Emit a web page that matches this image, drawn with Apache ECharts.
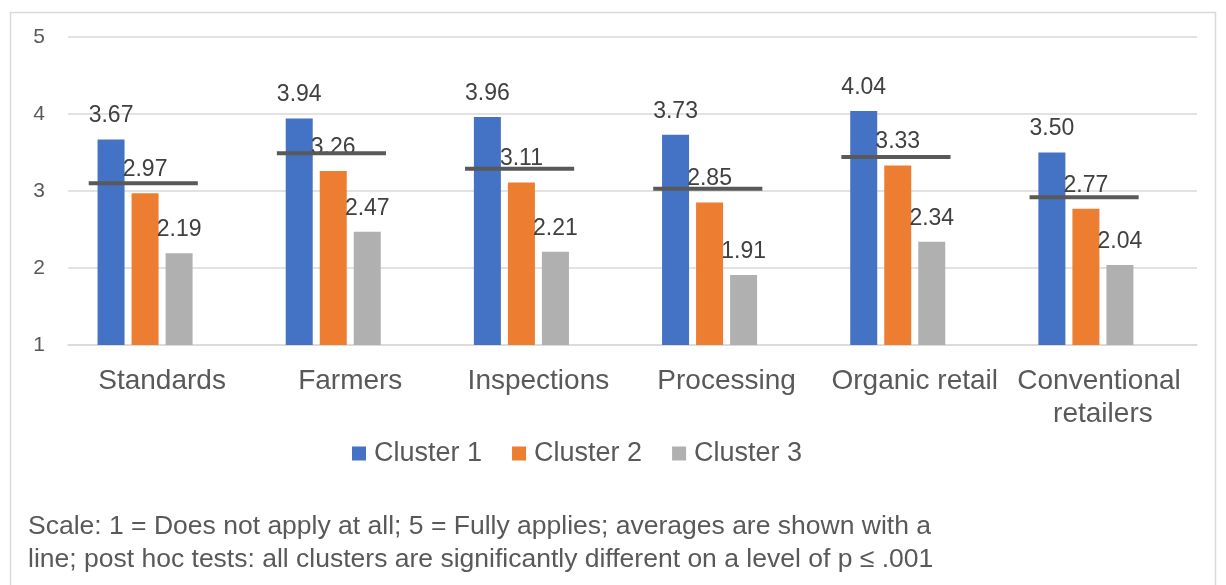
<!DOCTYPE html>
<html>
<head>
<meta charset="utf-8">
<script src="https://cdn.jsdelivr.net/npm/echarts@6/dist/echarts.min.js"></script>
<style>
  html, body { margin: 0; padding: 0; background: #ffffff; }
  #chart { width: 1226px; height: 585px; }
</style>
</head>
<body>
<div id="chart"></div>
<script>
const categories = ['Standards', 'Farmers', 'Inspections', 'Processing', 'Organic retail', 'Conventional retailers'];
const cluster1 = [3.67, 3.94, 3.96, 3.73, 4.04, 3.50];
const cluster2 = [2.97, 3.26, 3.11, 2.85, 3.33, 2.77];
const cluster3 = [2.19, 2.47, 2.21, 1.91, 2.34, 2.04];
const averages = [3.10, 3.49, 3.29, 3.03, 3.44, 2.92];
const seriesNames = ['Cluster 1', 'Cluster 2', 'Cluster 3'];
const yTicks = [1, 2, 3, 4, 5];
const note = 'Scale: 1 = Does not apply at all; 5 = Fully applies; averages are shown with a\nline; post hoc tests: all clusters are significantly different on a level of p \u2264 .001';

const FONT = '"Liberation Sans", Arial, Helvetica, sans-serif';
const colors = ['#4472C4', '#ED7D31', '#B0B0B0'];

const chart = echarts.init(document.getElementById('chart'));

function barSeries(name, data, color) {
  return {
    name: name,
    type: 'bar',
    data: data,
    barWidth: 27,
    barGap: '26%',
    itemStyle: { color: color },
    label: {
      show: true,
      position: 'top',
      distance: 12,
      formatter: p => p.value.toFixed(2),
      fontFamily: FONT,
      fontSize: 23,
      color: '#404040'
    },
    z: 2
  };
}

const option = {
  animation: false,
  backgroundColor: '#ffffff',
  textStyle: { fontFamily: FONT },
  graphic: [{
    type: 'rect',
    shape: { x: 10.5, y: 12.5, width: 1205, height: 620 },
    style: { fill: 'none', stroke: '#d9d9d9', lineWidth: 1.5 },
    silent: true,
    z: -10
  }],
  title: {
    text: note,
    left: 23,
    top: 505,
    textStyle: { fontFamily: FONT, fontSize: 26.5, fontWeight: 'normal', color: '#595959', lineHeight: 33 }
  },
  grid: { left: 68, right: 29, top: 37, bottom: 240, containLabel: false },
  legend: {
    data: seriesNames,
    left: 347,
    top: 435,
    icon: 'rect',
    itemWidth: 14,
    itemHeight: 14,
    itemGap: 30,
    textStyle: { fontFamily: FONT, fontSize: 27, color: '#595959', padding: [0, 0, 0, 3] }
  },
  xAxis: {
    type: 'category',
    data: categories,
    axisTick: { show: false },
    axisLine: { lineStyle: { color: '#d9d9d9', width: 1.5 } },
    axisLabel: {
      interval: 0,
      margin: 20,
      fontFamily: FONT,
      fontSize: 28,
      color: '#595959',
      width: 188,
      overflow: 'break',
      lineHeight: 33
    }
  },
  yAxis: {
    type: 'value',
    min: yTicks[0],
    max: yTicks[yTicks.length - 1],
    interval: 1,
    axisLine: { show: false },
    axisTick: { show: false },
    splitLine: { lineStyle: { color: '#d9d9d9', width: 1.5 } },
    axisLabel: { margin: 23, fontFamily: FONT, fontSize: 21, color: '#595959' }
  },
  series: [
    barSeries(seriesNames[0], cluster1, colors[0]),
    barSeries(seriesNames[1], cluster2, colors[1]),
    barSeries(seriesNames[2], cluster3, colors[2]),
    {
      name: 'Average',
      type: 'bar',
      data: averages,
      barWidth: 27,
      barGap: '26%',
      itemStyle: { color: 'rgba(0,0,0,0)' },
      silent: true
    },
    {
      name: 'Average line',
      type: 'custom',
      data: averages.map((v, i) => [i, v]),
      renderItem: function (params, api) {
        const pt = api.coord([api.value(0), api.value(1)]);
        const bw = api.size([1, 0])[0];
        return {
          type: 'line',
          shape: { x1: pt[0] - 0.39 * bw, y1: pt[1], x2: pt[0] + 0.19 * bw, y2: pt[1] },
          style: { stroke: '#595959', lineWidth: 4 }
        };
      },
      z: 5,
      silent: true
    }
  ]
};

chart.setOption(option);
</script>
</body>
</html>
